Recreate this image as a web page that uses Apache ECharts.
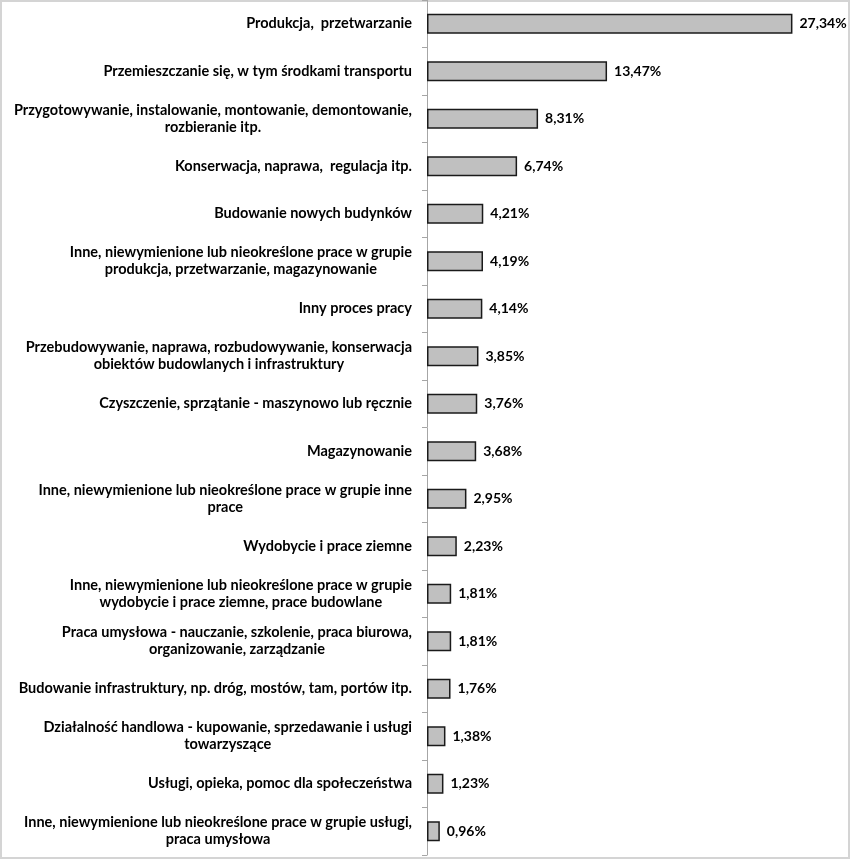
<!DOCTYPE html>
<html>
<head>
<meta charset="utf-8">
<script src="https://cdn.jsdelivr.net/npm/echarts@6/dist/echarts.min.js"></script>
<style>
html,body{margin:0;padding:0;background:#fff;}
#chart{width:850px;height:859px;}
</style>
</head>
<body>
<div id="chart"></div>
<script>
const categories = [
  "Produkcja,  przetwarzanie",
  "Przemieszczanie się, w tym środkami transportu",
  "Przygotowywanie, instalowanie, montowanie, demontowanie,\nrozbieranie itp.",
  "Konserwacja, naprawa,  regulacja itp.",
  "Budowanie nowych budynków",
  "Inne, niewymienione lub nieokreślone prace w grupie\nprodukcja, przetwarzanie, magazynowanie",
  "Inny proces pracy",
  "Przebudowywanie, naprawa, rozbudowywanie, konserwacja\nobiektów budowlanych i infrastruktury",
  "Czyszczenie, sprzątanie - maszynowo lub ręcznie",
  "Magazynowanie",
  "Inne, niewymienione lub nieokreślone prace w grupie inne\nprace",
  "Wydobycie i prace ziemne",
  "Inne, niewymienione lub nieokreślone prace w grupie\nwydobycie i prace ziemne, prace budowlane",
  "Praca umysłowa - nauczanie, szkolenie, praca biurowa,\norganizowanie, zarządzanie",
  "Budowanie infrastruktury, np. dróg, mostów, tam, portów itp.",
  "Działalność handlowa - kupowanie, sprzedawanie i usługi\ntowarzyszące",
  "Usługi, opieka, pomoc dla społeczeństwa",
  "Inne, niewymienione lub nieokreślone prace w grupie usługi,\npraca umysłowa"
];
const values = [27.34, 13.47, 8.31, 6.74, 4.21, 4.19, 4.14, 3.85, 3.76, 3.68, 2.95, 2.23, 1.81, 1.81, 1.76, 1.38, 1.23, 0.96];

const FONT = 'Lato';
const chart = echarts.init(document.getElementById('chart'), null, {renderer: 'canvas'});
chart.setOption({
  animation: false,
  backgroundColor: '#fff',
  graphic: [{
    type: 'rect',
    shape: {x: 1, y: 1, width: 848, height: 857},
    style: {fill: 'none', stroke: '#d4d4d4', lineWidth: 2},
    silent: true, z: -1
  }],
  grid: {left: 427, right: 22, top: 0, bottom: 4, containLabel: false},
  xAxis: {
    type: 'value', min: 0, max: 30,
    show: false
  },
  yAxis: {
    type: 'category',
    data: categories,
    inverse: true,
    axisLine: {show: true, lineStyle: {color: '#a6a6a6', width: 1}},
    axisTick: {show: true, length: 5, lineStyle: {color: '#a6a6a6'}},
    axisLabel: {
      margin: 15,
      color: '#000',
      fontFamily: FONT,
      fontWeight: 'bold',
      fontSize: 14.5,
      lineHeight: 17,
      formatter: function (v) {
        return v.split('\n').map(function (l) { return '{c|' + l + '}'; }).join('\n');
      },
      rich: {
        c: {align: 'center', color: '#000', fontFamily: FONT, fontWeight: 'bold', fontSize: 14.5, lineHeight: 17}
      }
    },
    splitLine: {show: false}
  },
  series: [{
    type: 'bar',
    data: values,
    barWidth: 20,
    itemStyle: {color: '#c0c0c0', borderColor: '#1a1a1a', borderWidth: 1.5},
    label: {
      show: true,
      position: 'right',
      distance: 7,
      color: '#000',
      fontFamily: FONT,
      fontWeight: 'bold',
      fontSize: 14,
      formatter: function (p) { return p.value.toFixed(2).replace('.', ',') + '%'; }
    }
  }]
});
</script>
</body>
</html>
